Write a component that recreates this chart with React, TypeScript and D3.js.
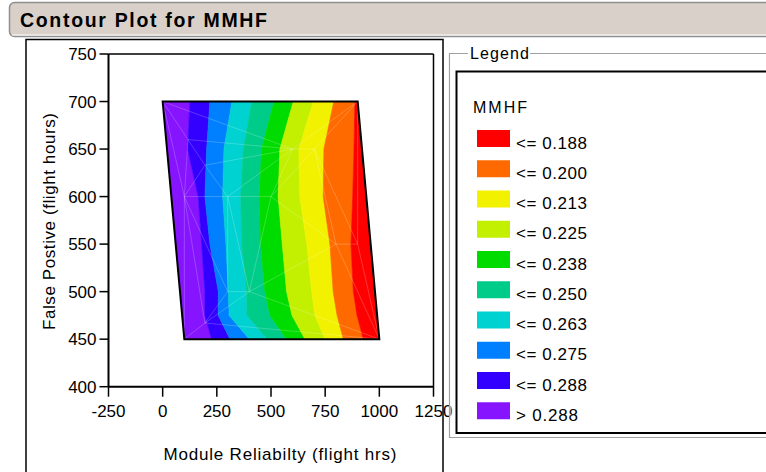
import React from "react";
import * as d3 from "d3";

// ---- data ----
const xTicks = [-250, 0, 250, 500, 750, 1000, 1250];
const yTicks = [400, 450, 500, 550, 600, 650, 700, 750];

// rows of the sampled region (False Positive) and their left/right limits (Module Reliability)
const rowY = [700, 650, 600, 550, 500, 475, 450];
const rowLeft = [0, 20, 40, 60, 80, 90, 100];
const rowRight = [900, 920, 940, 960, 980, 990, 1000];

// x positions (per row) where MMHF crosses each contour level
const c288 = [126, 115, 164, 180, 195, 195, 226];
const c275 = [218, 203, 195, 218, 257, 256, 311];
const c263 = [320, 283, 277, 292, 303, 307, 400];
const c250 = [412, 372, 360, 365, 388, 389, 483];
const c238 = [514, 457, 446, 452, 472, 495, 572];
const c225 = [603, 541, 533, 552, 572, 597, 657];
const c213 = [695, 629, 633, 665, 688, 703, 749];
const c200 = [790, 744, 741, 772, 787, 805, 834];
const c188 = [887, 883, 877, 869, 880, 897, 926];

// band colours, left (high MMHF) to right (low MMHF)
const bandColors = [
  "#8614ff", "#3300ff", "#0080ff", "#00d2d2", "#00cc8a",
  "#00dc00", "#c2f000", "#f2f200", "#ff6a00", "#ff0000",
];
const legendLabels = [
  "<= 0.188", "<= 0.200", "<= 0.213", "<= 0.225", "<= 0.238",
  "<= 0.250", "<= 0.263", "<= 0.275", "<= 0.288", "> 0.288",
];

// triangulation vertices of the sampled design points
const meshX = [0, 900, 100, 1000, 100, 300, 500, 600, 700, 300, 400, 800, 900, 195, 117, 195];
const meshY = [700, 700, 450, 450, 600, 600, 600, 650, 650, 500, 500, 550, 550, 633, 660, 467];

export default function App() {
  const W = 766, H = 472;
  const x = d3.scaleLinear().domain([-250, 1250]).range([108.5, 433.5]);
  const y = d3.scaleLinear().domain([400, 750]).range([386.7, 54]);

  const boundaries = [rowLeft, c288, c275, c263, c250, c238, c225, c213, c200, c188, rowRight];
  const line = d3.line<[number, number]>().x(d => x(d[0])).y(d => y(d[1]));

  const bands = bandColors.map((col, i) => {
    const a = boundaries[i], b = boundaries[i + 1];
    const pts: [number, number][] = [];
    rowY.forEach((yy, r) => pts.push([a[r], yy]));
    for (let r = rowY.length - 1; r >= 0; r--) pts.push([b[r], rowY[r]]);
    return { col, d: line(pts) + "Z" };
  });

  const quad: [number, number][] = [
    [rowLeft[0], rowY[0]], [rowRight[0], rowY[0]],
    [rowRight[rowY.length - 1], rowY[rowY.length - 1]], [rowLeft[rowY.length - 1], rowY[rowY.length - 1]],
  ];
  const quadPath = line(quad) + "Z";

  const meshPts = meshX.map((v, i) => [x(v), y(meshY[i])] as [number, number]);
  const delaunay = d3.Delaunay.from(meshPts);
  const meshPath = delaunay.render();

  const font = "'Liberation Sans', Arial, sans-serif";
  const legTop = 130, legStep = 30.25;

  return (
    <svg width={W} height={H} style={{ position: "absolute", left: 0, top: 0, background: "#fff" }}
      fontFamily={font}>
      {/* title bar */}
      <rect x={9.5} y={2.5} width={800} height={34} rx={5} fill="#d8d0c9" stroke="#8e8e8e" strokeWidth={1.5} />
      <line x1={12} x2={766} y1={35} y2={35} stroke="#ffffff" strokeWidth={1} />
      <text x={20} y={27} fontSize={19.5} fontWeight="bold" textLength={247} lengthAdjust="spacing" fill="#000">
        Contour Plot for MMHF
      </text>

      {/* left panel */}
      <rect x={26} y={39.5} width={417} height={460} fill="none" stroke="#000" strokeWidth={1.5} />

      {/* plot frame */}
      <line x1={x(-250)} x2={x(1250)} y1={y(750)} y2={y(750)} stroke="#000" strokeWidth={1.5} />
      <line x1={x(1250)} x2={x(1250)} y1={y(750)} y2={y(400)} stroke="#000" strokeWidth={1.5} />
      <line x1={x(-250)} x2={x(1250)} y1={y(400)} y2={y(400)} stroke="#000" strokeWidth={2} />
      <line x1={x(-250)} x2={x(-250)} y1={y(750)} y2={y(400)} stroke="#000" strokeWidth={2} />

      {/* bands */}
      <defs>
        <clipPath id="quadClip"><path d={quadPath} /></clipPath>
      </defs>
      <g clipPath="url(#quadClip)">
        {bands.map((b, i) => (
          <path key={i} d={b.d} fill={b.col} stroke={b.col} strokeWidth={0.6} />
        ))}
        <path d={meshPath} fill="none" stroke="#ffffff" strokeOpacity={0.3} strokeWidth={0.7} />
      </g>
      <path d={quadPath} fill="none" stroke="#000" strokeWidth={2} />

      {/* y axis ticks */}
      {yTicks.map(t => (
        <g key={"y" + t}>
          <line x1={x(-250) - 9} x2={x(-250)} y1={y(t)} y2={y(t)} stroke="#000" strokeWidth={1.5} />
          <text x={x(-250) - 12} y={y(t) + 6} fontSize={17} textAnchor="end">{t}</text>
        </g>
      ))}
      {/* x axis ticks */}
      {xTicks.map(t => (
        <g key={"x" + t}>
          <line x1={x(t)} x2={x(t)} y1={y(400)} y2={y(400) + 10} stroke="#000" strokeWidth={1.5} />
          <text x={x(t)} y={416.5} fontSize={17} textAnchor="middle">{t}</text>
        </g>
      ))}
      <text x={280} y={460} fontSize={17} textAnchor="middle" textLength={233} lengthAdjust="spacing">
        Module Reliabilty (flight hrs)
      </text>
      <text transform={`translate(55,221.5) rotate(-90)`} fontSize={17} textAnchor="middle" textLength={217}
        lengthAdjust="spacing">
        False Postive (flight hours)
      </text>

      {/* legend group box */}
      <path d="M468,53.5 H449.5 V437.5 H800 M530,53.5 H800" fill="none" stroke="#a0a0a0" strokeWidth={1.2} />
      <path d="M468,54.8 H450.8 V436.2 M530,54.8 H800" fill="none" stroke="#ffffff" strokeWidth={0.8} />
      <text x={470} y={58.5} fontSize={16} textLength={59} lengthAdjust="spacing">Legend</text>
      <rect x={456.5} y={71.5} width={400} height={361.5} fill="#fff" stroke="#000" strokeWidth={2} />
      <text x={473} y={113} fontSize={16} textLength={54} lengthAdjust="spacing">MMHF</text>
      {legendLabels.map((lab, i) => (
        <g key={lab}>
          <rect x={477} y={legTop + i * legStep} width={33} height={17}
            fill={bandColors[bandColors.length - 1 - i]} />
          <text x={516} y={legTop + i * legStep + 18.5} fontSize={17}
            textLength={i === legendLabels.length - 1 ? 62 : 71} lengthAdjust="spacing">{lab}</text>
        </g>
      ))}
    </svg>
  );
}
